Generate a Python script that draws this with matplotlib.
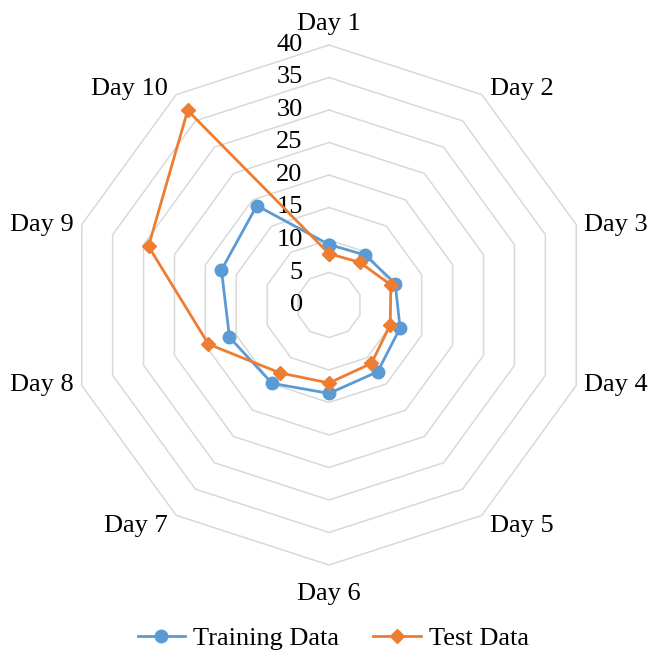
import numpy as np
import matplotlib.pyplot as plt

days = ["Day 1", "Day 2", "Day 3", "Day 4", "Day 5",
        "Day 6", "Day 7", "Day 8", "Day 9", "Day 10"]
training = [9.3, 9.5, 10.7, 11.5, 12.7, 13.6, 14.9, 16.1, 17.4, 18.9]
test = [7.9, 8.1, 10.0, 9.9, 11.1, 12.0, 12.9, 19.5, 29.2, 37.0]
rings = [5, 10, 15, 20, 25, 30, 35, 40]
ring_labels = [0, 5, 10, 15, 20, 25, 30, 35, 40]

plt.rcParams['font.family'] = ['Liberation Serif', 'DejaVu Serif']
FS = 19
BLUE = '#5B9BD5'
ORANGE = '#ED7D31'
GRID = '#D9D9D9'

fig = plt.figure(figsize=(6.51, 6.55), dpi=100)
ax = fig.add_axes([0.106, 0.1374, 0.7988, 0.7939], projection='polar')
ax.set_theta_zero_location('N')
ax.set_theta_direction(-1)
ax.set_ylim(0, 40)
ax.grid(False)
ax.spines['polar'].set_visible(False)
ax.set_xticks([])
ax.set_yticks([])
ax.patch.set_alpha(0)

n = len(days)
theta = np.arange(n) * 2 * np.pi / n
theta_c = np.append(theta, theta[0])

# decagon gridlines
for r in rings:
    ax.plot(theta_c, [r] * (n + 1), color=GRID, lw=1.1, zorder=1, clip_on=False)

# value labels up the first spoke
for v in ring_labels:
    ax.annotate(str(v), (0, v), xytext=(-19, 0), textcoords='offset points',
                ha='right', va='center', fontsize=FS)

# category labels around the outside
px = 72 / 100
for i, (t, d) in enumerate(zip(theta, days)):
    if i == 0:
        ha, va, off = 'center', 'baseline', (0, 15)
    elif i == 5:
        ha, va, off = 'center', 'top', (0, -18)
    else:
        right = i < 5
        ha = 'left' if right else 'right'
        dx = 8 if right else -8
        k = i if right else 10 - i
        va = {1: 'baseline', 2: 'center', 3: 'center', 4: 'top'}[k]
        off = (dx, 0)
    ax.annotate(d, (t, 40), xytext=(off[0] * px, off[1] * px),
                textcoords='offset points', ha=ha, va=va, fontsize=FS)

ax.plot(theta_c, training + training[:1], color=BLUE, lw=2.0, marker='o',
        markersize=9, label='Training Data', zorder=3, clip_on=False)
ax.plot(theta_c, test + test[:1], color=ORANGE, lw=2.0, marker='D',
        markersize=7.5, label='Test Data', zorder=4, clip_on=False)

fig.legend(loc='lower center', bbox_to_anchor=(0.512, -0.029), ncol=2,
           frameon=False, fontsize=FS, handlelength=1.8, handletextpad=0.3,
           columnspacing=1.3)

fig.savefig('out.png', dpi=100)
